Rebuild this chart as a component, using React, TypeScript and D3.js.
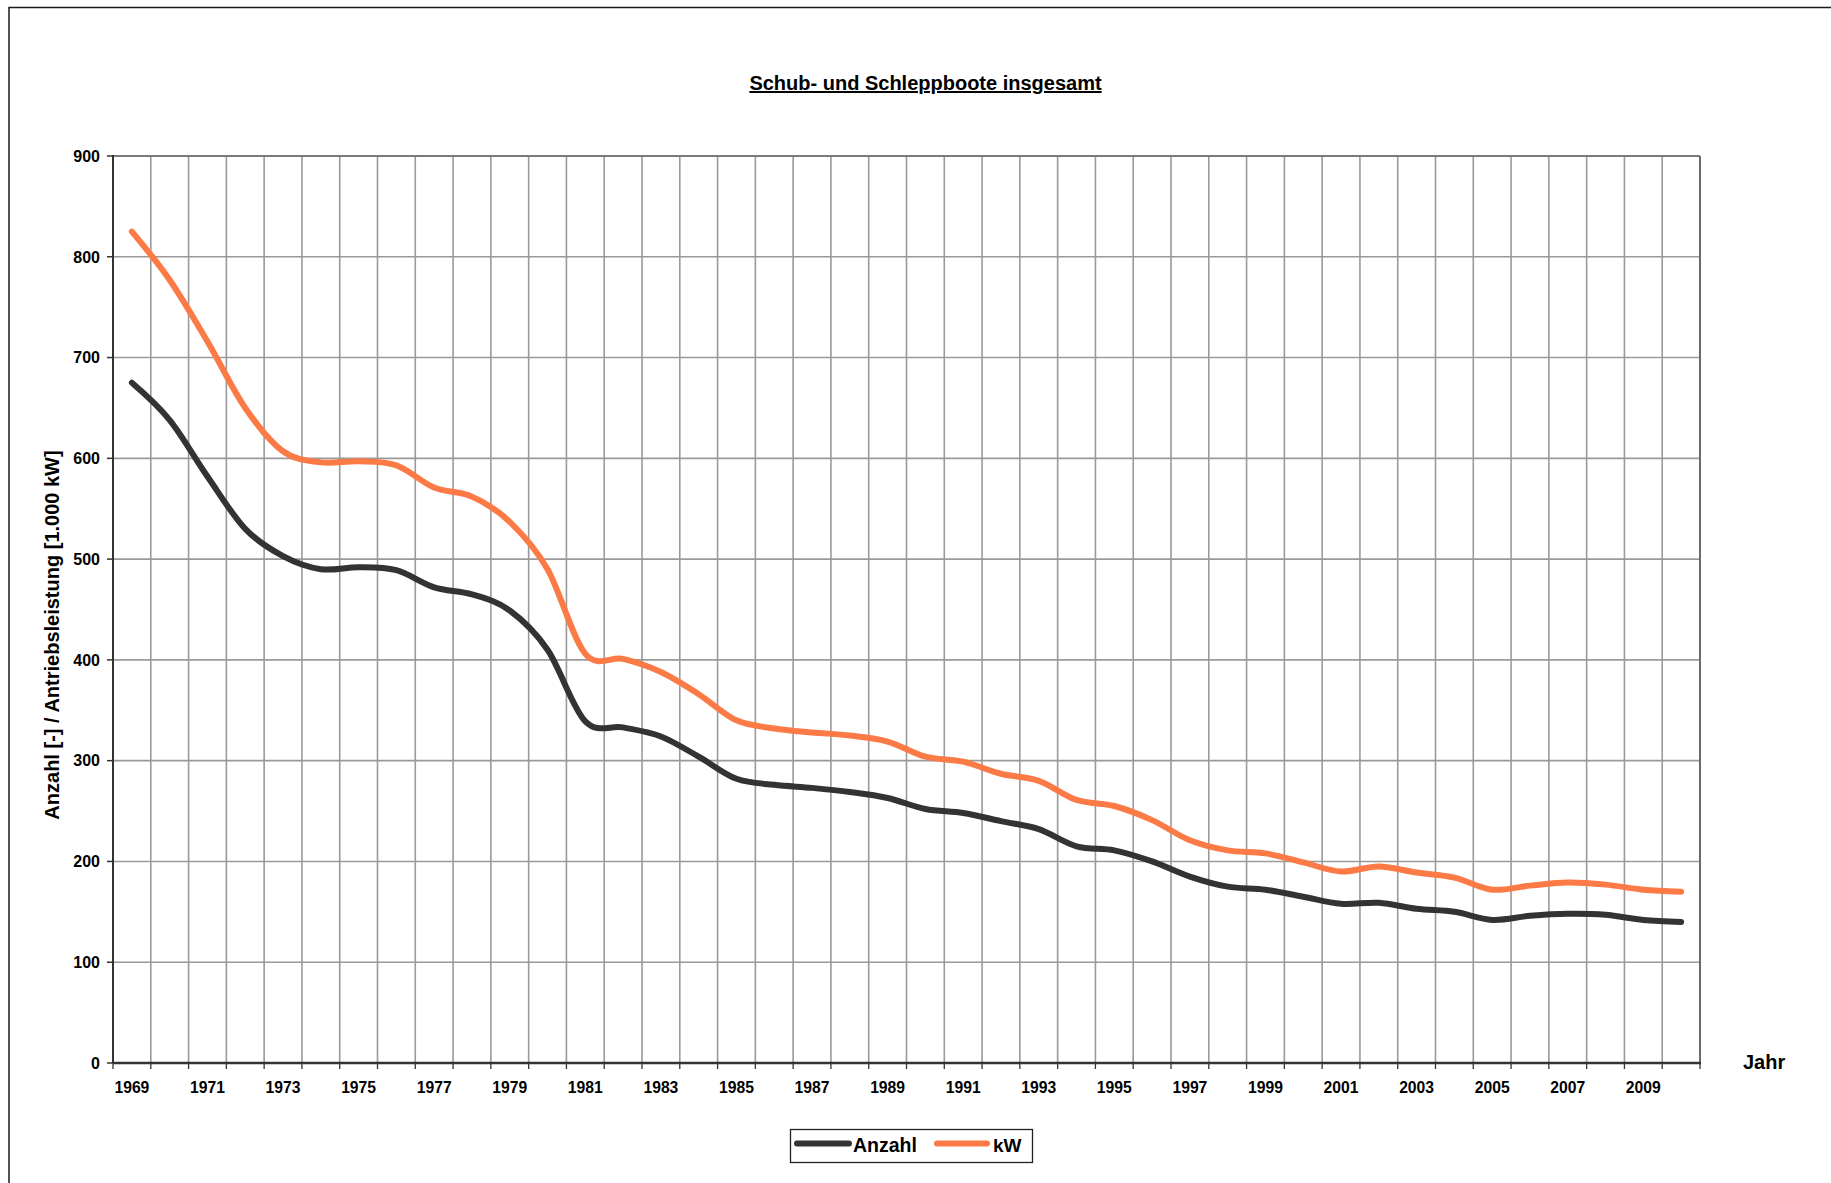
import React from "react";
import * as d3 from "d3";

const years: number[] = [
  1969, 1970, 1971, 1972, 1973, 1974, 1975, 1976, 1977, 1978,
  1979, 1980, 1981, 1982, 1983, 1984, 1985, 1986, 1987, 1988,
  1989, 1990, 1991, 1992, 1993, 1994, 1995, 1996, 1997, 1998,
  1999, 2000, 2001, 2002, 2003, 2004, 2005, 2006, 2007, 2008,
  2009, 2010,
];

const anzahl: number[] = [
  675, 638, 582, 530, 503, 490, 492, 489, 472, 465,
  449, 410, 339, 333, 324, 304, 282, 276, 273, 269,
  263, 252, 248, 240, 232, 215, 211, 200, 185, 175,
  172, 165, 158, 159, 153, 150, 142, 146, 148, 147,
  142, 140,
];

const kw: number[] = [
  825, 777, 716, 650, 607, 596, 597, 593, 571, 562,
  537, 490, 406, 401, 388, 366, 340, 332, 328, 325,
  319, 304, 299, 287, 280, 261, 255, 241, 221, 211,
  208, 199, 190, 195, 189, 184, 172, 176, 179, 177,
  172, 170,
];

const yTicks: number[] = [0, 100, 200, 300, 400, 500, 600, 700, 800, 900];
const labeledYears: number[] = years.filter((_, i) => i % 2 === 0);

const W = 1831;
const H = 1183;
const L = 113;
const R = 1700;
const T = 156;
const B = 1063;

const FONT = "'Liberation Sans', Arial, sans-serif";
const DARK = "#333333";
const ORANGE = "#fb7a46";
const GRID = "#9a9a9a";

export default function App() {
  const x = d3.scaleBand<number>().domain(years).range([L, R]).padding(0);
  const bw = x.bandwidth();
  const y = d3.scaleLinear().domain([0, 900]).range([B, T]);
  const cx = (yr: number) => (x(yr) as number) + bw / 2;

  const line = (vals: number[]) =>
    d3
      .line<number>()
      .x((_, i) => cx(years[i]))
      .y((v) => y(v))
      .curve(d3.curveCatmullRom.alpha(0))(vals) as string;

  const boundaries = years.map((yr) => x(yr) as number).concat([R]);

  return (
    <svg
      width={W}
      height={H}
      style={{ position: "absolute", left: 0, top: 0, display: "block", background: "#fff" }}
      fontFamily={FONT}
    >
      {/* outer frame */}
      <path d={`M9,${H} V7.5 H${W}`} fill="none" stroke="#1a1a1a" strokeWidth={1.5} />

      {/* title */}
      <text
        x={925.5}
        y={90}
        textAnchor="middle"
        fontSize={20}
        fontWeight="bold"
        textDecoration="underline"
        fill="#000"
      >
        Schub- und Schleppboote insgesamt
      </text>

      {/* horizontal gridlines */}
      {yTicks.map((t) => (
        <line key={"h" + t} x1={L} x2={R} y1={y(t)} y2={y(t)} stroke={GRID} strokeWidth={1.6} />
      ))}
      {/* vertical gridlines */}
      {boundaries.slice(1, -1).map((bx, i) => (
        <line key={"v" + i} x1={bx} x2={bx} y1={T} y2={B} stroke={GRID} strokeWidth={1.6} />
      ))}

      {/* top / right frame */}
      <line x1={L} x2={R} y1={T} y2={T} stroke="#7a7a7a" strokeWidth={2} />
      <line x1={R} x2={R} y1={T} y2={B} stroke="#6a6a6a" strokeWidth={2} />

      {/* axes */}
      <line x1={L} x2={L} y1={T - 1} y2={B} stroke={DARK} strokeWidth={2} />
      <line x1={L} x2={R + 1} y1={B} y2={B} stroke={DARK} strokeWidth={2.5} />

      {/* y ticks + labels */}
      {yTicks.map((t) => (
        <g key={"yt" + t}>
          <line x1={L - 6} x2={L} y1={y(t)} y2={y(t)} stroke={DARK} strokeWidth={1.5} />
          <text
            x={100}
            y={y(t)}
            dy="0.36em"
            textAnchor="end"
            fontSize={16}
            fontWeight="bold"
            fill="#000"
          >
            {t}
          </text>
        </g>
      ))}

      {/* x ticks */}
      {boundaries.map((bx, i) => (
        <line key={"xt" + i} x1={bx} x2={bx} y1={B} y2={B + 6} stroke={DARK} strokeWidth={1.3} />
      ))}
      {labeledYears.map((yr) => (
        <text
          key={"xl" + yr}
          x={cx(yr)}
          y={1093}
          textAnchor="middle"
          fontSize={15.7}
          fontWeight="bold"
          fill="#000"
        >
          {yr}
        </text>
      ))}

      {/* axis titles */}
      <text
        transform={`translate(59,635) rotate(-90)`}
        textAnchor="middle"
        fontSize={20}
        fontWeight="bold"
        fill="#000"
      >
        Anzahl [-] / Antriebsleistung [1.000 kW]
      </text>
      <text x={1743} y={1069} fontSize={20} fontWeight="bold" fill="#000">
        Jahr
      </text>

      {/* series */}
      <path d={line(kw)} fill="none" stroke={ORANGE} strokeWidth={6} strokeLinecap="round" strokeLinejoin="round" />
      <path d={line(anzahl)} fill="none" stroke={DARK} strokeWidth={6} strokeLinecap="round" strokeLinejoin="round" />

      {/* legend */}
      <rect x={790.5} y={1129.5} width={242} height={33} fill="#fff" stroke="#222" strokeWidth={1.3} />
      <line x1={797} x2={849} y1={1143.5} y2={1143.5} stroke={DARK} strokeWidth={6} strokeLinecap="round" />
      <text x={853} y={1152} fontSize={19.5} fontWeight="bold" fill="#000">
        Anzahl
      </text>
      <line x1={937} x2={987} y1={1143.5} y2={1143.5} stroke={ORANGE} strokeWidth={6} strokeLinecap="round" />
      <text x={993} y={1152} fontSize={19} fontWeight="bold" fill="#000">
        kW
      </text>
    </svg>
  );
}
